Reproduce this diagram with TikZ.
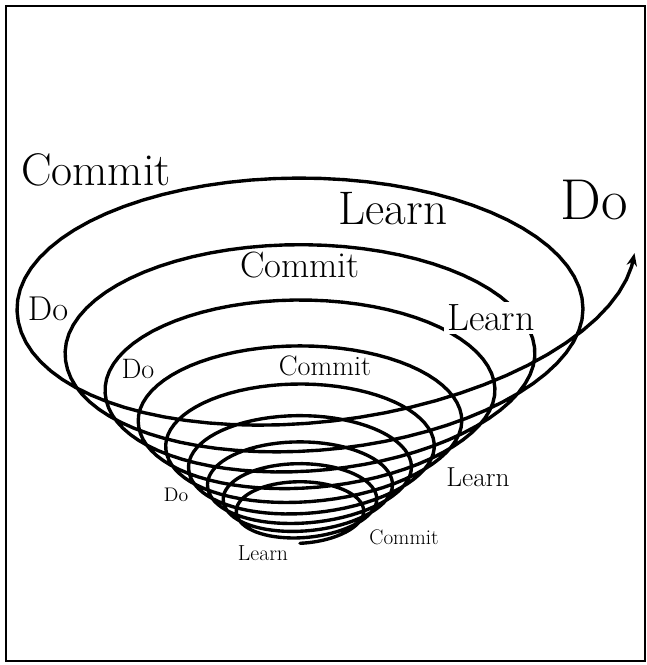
\documentclass[tikz,border=0pt]{standalone}
\usepackage{tikz}
\usetikzlibrary{arrows.meta}

% cone spiral: back half of each turn at fixed radius, front half grows
\tikzset{
  declare function={
    turnp(\t)=floor(\t/360)+((mod(\t,360)<180) ? 0 : (1+cos(mod(\t,360)))/2);
    sprad(\t)=(turnp(\t)<=9) ? 283*pow(0.83,9-turnp(\t)) : 283+52*(turnp(\t)-9);
    splift(\t)=16*pow(max(turnp(\t)-9,0),2);
    spx(\t)=300+sprad(\t)*cos(\t);
    spy(\t)=570-0.9225*sprad(\t)-0.4625*sprad(\t)*sin(\t)-splift(\t);
  },
  spiral/.style={line width=2.4pt, line cap=round, line join=round},
  lbl/.style={inner sep=0pt},
  gaplbl/.style={inner sep=2pt, fill=white},
}
\newcommand{\fsz}[1]{\fontsize{#1}{#1}\selectfont}

\begin{document}
\begin{tikzpicture}[x=0.025cm, y=-0.025cm]
  \useasboundingbox (0,0) rectangle (646,665);
  \draw[line width=1.6pt] (6,6) rectangle (645,661);

  \draw[spiral, -{Stealth[length=0.32cm, width=0.26cm]}]
    plot[domain=270:3597, samples=700] ({spx(\x)}, {spy(\x)});

  % outer labels
  \node[lbl, font=\fsz{32.5pt}] (commitA) at (96,170) {Commit};
  \node[lbl, font=\fsz{33.5pt}] (learnA) at (393,209) {Learn};
  \node[lbl, font=\fsz{41pt}] (doA) at (594,200) {Do};
  % second ring
  \node[lbl, font=\fsz{26pt}] (commitB) at (300,265) {Commit};
  \node[lbl, font=\fsz{24.5pt}] (doB) at (48,309) {Do};
  \node[gaplbl, font=\fsz{27pt}] (learnB) at (491,318) {Learn};
  % third ring
  \node[lbl, font=\fsz{20pt}] (doC) at (138,369) {Do};
  \node[lbl, font=\fsz{20pt}] (commitC) at (325,366) {Commit};
  \node[lbl, font=\fsz{19.5pt}] (learnC) at (478,477) {Learn};
  % near the tip
  \node[lbl, font=\fsz{14pt}] (doD) at (176,495) {Do};
  \node[lbl, font=\fsz{15pt}] (commitD) at (404,537) {Commit};
  \node[lbl, font=\fsz{15.5pt}] (learnD) at (263,553) {Learn};
\end{tikzpicture}
\end{document}
